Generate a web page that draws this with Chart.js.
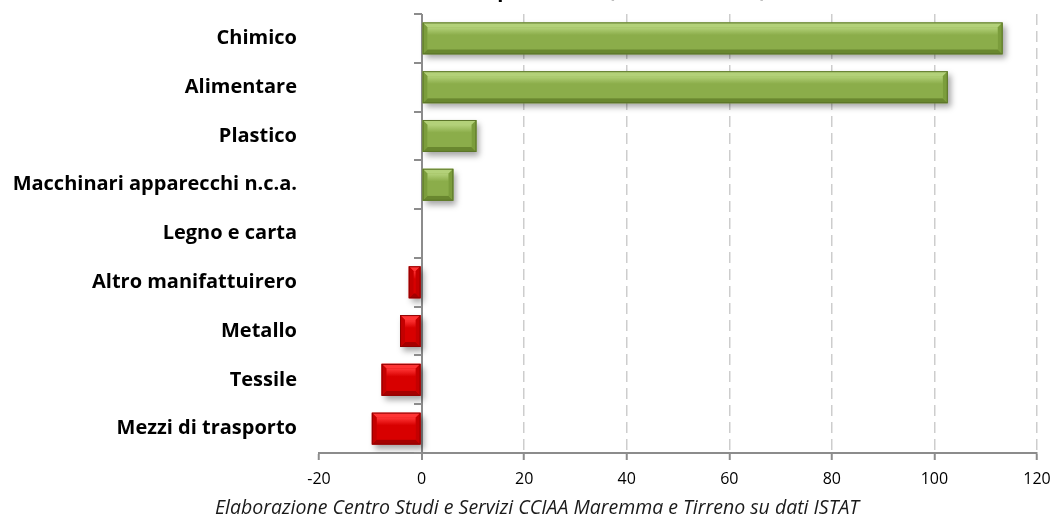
<!DOCTYPE html>
<html>
<head>
<meta charset="utf-8">
<script src="https://cdn.jsdelivr.net/npm/chart.js@4/dist/chart.umd.min.js"></script>
<style>
  html, body { margin: 0; padding: 0; background: #fff; }
  #wrap { width: 1051px; height: 520px; position: relative; }
</style>
</head>
<body>
<div id="wrap"><canvas id="sectorChart" width="1051" height="520"></canvas></div>
<script>
const sectors = ['Chimico', 'Alimentare', 'Plastico', 'Macchinari apparecchi n.c.a.', 'Legno e carta',
                 'Altro manifattuirero', 'Metallo', 'Tessile', 'Mezzi di trasporto'];
const values = [113.3, 102.6, 10.7, 6.2, 0, -2.5, -4.2, -7.8, -9.7];
const xTicks = [-20, 0, 20, 40, 60, 80, 100, 120];

const chartTitle = 'Saldo commerciale per settori (milioni di euro)';
const sourceNote = 'Elaborazione Centro Studi e Servizi CCIAA Maremma e Tirreno su dati ISTAT';

const FONT = '"Open Sans", Lato, sans-serif';

// shading for the bevelled bars
const greenBar = { face: '#8bad4a', top: '#b3d179', bottom: '#69872f', side: '#7b9d3c', edge: '#5b7429' };
const redBar = { face: '#d80000', top: '#ff3434', bottom: '#a50000', side: '#c40000', edge: '#8e0000' };

function barPalette(v) {
    return v >= 0 ? greenBar : redBar;
}

// drop shadow under the bars
const shadowPlugin = {
    id: 'barShadow',
    beforeDatasetDraw(chart) {
        const ctx = chart.ctx;
        ctx.save();
        ctx.shadowColor = 'rgba(0,0,0,0.35)';
        ctx.shadowBlur = 6;
        ctx.shadowOffsetX = 3;
        ctx.shadowOffsetY = 4;
    },
    afterDatasetDraw(chart) {
        chart.ctx.restore();
    }
};

// bevelled faces drawn over each bar
const bevelPlugin = {
    id: 'bevel',
    afterDatasetsDraw(chart) {
        const ctx = chart.ctx;
        const meta = chart.getDatasetMeta(0);
        meta.data.forEach((bar, i) => {
            const v = values[i];
            if (v === 0) return;
            const p = bar.getProps(['x', 'y', 'base', 'height'], true);
            const left = Math.min(p.x, p.base), right = Math.max(p.x, p.base);
            const top = p.y - p.height / 2, bottom = p.y + p.height / 2;
            const b = Math.min(5, (right - left) / 2);
            const pal = barPalette(v);
            ctx.save();
            // top facet
            ctx.fillStyle = pal.top;
            ctx.beginPath();
            ctx.moveTo(left, top); ctx.lineTo(right, top);
            ctx.lineTo(right - b, top + b); ctx.lineTo(left + b, top + b);
            ctx.closePath(); ctx.fill();
            // bottom facet
            ctx.fillStyle = pal.bottom;
            ctx.beginPath();
            ctx.moveTo(left, bottom); ctx.lineTo(right, bottom);
            ctx.lineTo(right - b, bottom - b); ctx.lineTo(left + b, bottom - b);
            ctx.closePath(); ctx.fill();
            // side facets
            ctx.fillStyle = pal.side;
            ctx.beginPath();
            ctx.moveTo(left, top); ctx.lineTo(left + b, top + b);
            ctx.lineTo(left + b, bottom - b); ctx.lineTo(left, bottom);
            ctx.closePath(); ctx.fill();
            ctx.beginPath();
            ctx.moveTo(right, top); ctx.lineTo(right - b, top + b);
            ctx.lineTo(right - b, bottom - b); ctx.lineTo(right, bottom);
            ctx.closePath(); ctx.fill();
            // face with soft highlight
            const g = ctx.createLinearGradient(0, top + b, 0, bottom - b);
            g.addColorStop(0, pal.top);
            g.addColorStop(0.35, pal.face);
            g.addColorStop(1, pal.face);
            ctx.fillStyle = g;
            ctx.fillRect(left + b, top + b, right - left - 2 * b, bottom - top - 2 * b);
            ctx.strokeStyle = pal.edge;
            ctx.lineWidth = 1;
            ctx.strokeRect(left + 0.5, top + 0.5, right - left - 1, bottom - top - 1);
            ctx.restore();
        });
    }
};

// short category ticks along the zero line, title and source line
const decorPlugin = {
    id: 'decor',
    afterDraw(chart) {
        const ctx = chart.ctx;
        const x = chart.scales.x, y = chart.scales.y;
        const x0 = Math.round(x.getPixelForValue(0));
        ctx.save();
        ctx.strokeStyle = '#8c8c8c';
        ctx.lineWidth = 2;
        const n = sectors.length;
        for (let i = 0; i <= n; i++) {
            const yy = Math.round(y.getPixelForValue(i - 0.5));
            ctx.beginPath();
            ctx.moveTo(x0 - 8, yy);
            ctx.lineTo(x0, yy);
            ctx.stroke();
        }
        ctx.fillStyle = '#000';
        ctx.textAlign = 'center';
        ctx.textBaseline = 'alphabetic';
        ctx.font = 'bold 20px ' + FONT;
        ctx.fillText(chartTitle, 535, -3);
        ctx.font = 'italic 19.5px ' + FONT;
        ctx.fillStyle = '#1a1a1a';
        ctx.fillText(sourceNote, 537, 514);
        ctx.restore();
    }
};

new Chart(document.getElementById('sectorChart'), {
    type: 'bar',
    data: {
        labels: sectors,
        datasets: [{
            data: values,
            backgroundColor: values.map(v => barPalette(v).face),
            borderWidth: 0,
            barPercentage: 0.655,
            categoryPercentage: 1
        }]
    },
    options: {
        indexAxis: 'y',
        responsive: false,
        animation: false,
        layout: { padding: { top: 14, right: 0, bottom: 35, left: 0 } },
        plugins: { legend: { display: false }, tooltip: { enabled: false } },
        scales: {
            x: {
                min: -20,
                max: 120,
                afterBuildTicks(scale) {
                    scale.ticks = xTicks.map(v => ({ value: v }));
                },
                afterFit(scale) {
                    scale.height = 32;
                    scale.paddingRight = 14;
                },
                grid: {
                    color: c => c.tick.value === -20 ? 'rgba(0,0,0,0)' : (c.tick.value === 0 ? '#8c8c8c' : '#cdcdcd'),
                    lineWidth: c => c.tick.value === 0 ? 2 : 1.5,
                    tickColor: '#8c8c8c',
                    tickLength: 7,
                    tickWidth: 2
                },
                border: {
                    color: '#8c8c8c',
                    width: 2,
                    dash: c => (c.tick && c.tick.value !== 0) ? [11, 6] : []
                },
                ticks: {
                    color: '#000',
                    padding: 10,
                    font: { family: FONT, size: 16 }
                }
            },
            y: {
                afterFit(scale) {
                    scale.width = 319;
                    scale.paddingTop = 0;
                    scale.paddingBottom = 0;
                },
                grid: { display: false },
                border: { display: false },
                ticks: {
                    color: '#000',
                    padding: 14,
                    font: { family: FONT, size: 20, weight: 'bold' }
                }
            }
        }
    },
    plugins: [shadowPlugin, bevelPlugin, decorPlugin]
});
</script>
</body>
</html>
